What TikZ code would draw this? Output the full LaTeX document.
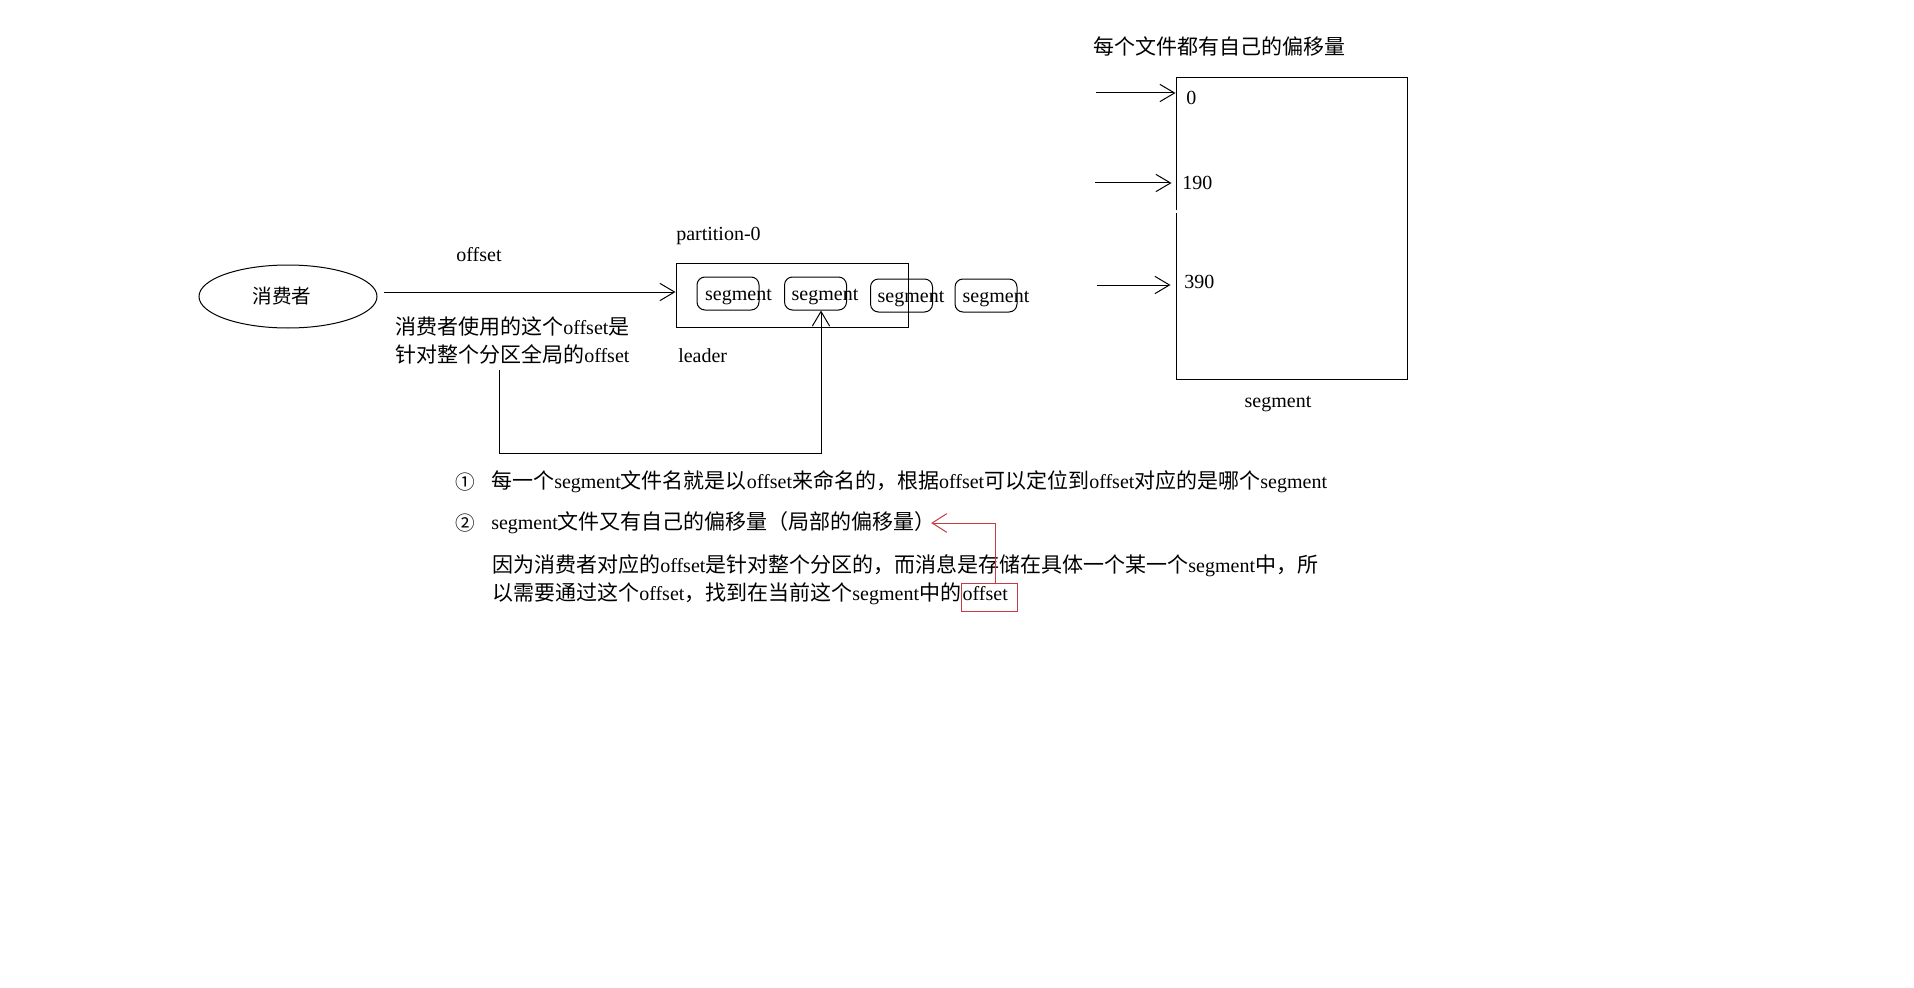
\documentclass[tikz,border=0pt]{standalone}
\usepackage{fontspec}
\setmainfont{Liberation Serif}
\newfontfamily\cjk[Scale=1.05]{Noto Sans CJK SC}
\usetikzlibrary{arrows.meta,shapes.geometric,calc}
\definecolor{redline}{RGB}{196,60,66}
\newcommand\zh[1]{{\cjk #1}}
\begin{document}
\begin{tikzpicture}[x=0.75pt,y=-0.75pt,
  txt/.style={inner sep=0pt, font=\fontsize{15}{18}\selectfont},
  arr/.style={line width=0.75pt, -{Straight Barb[length=11pt,width=13pt]}},
  redarr/.style={draw=redline, line width=0.75pt, -{Straight Barb[length=11pt,width=14pt]}},
  box/.style={draw, line width=0.75pt, inner sep=0pt},
  segbox/.style={draw, line width=0.75pt, inner sep=0pt, rounded corners=6pt, minimum width=46.5pt, minimum height=24.75pt},
  redbox/.style={draw=redline, line width=0.75pt, inner sep=0pt}
]
\useasboundingbox (0,0) rectangle (1914,988);

% consumer
\node[draw, ellipse, line width=0.75pt, inner sep=0pt, minimum width=133.5pt, minimum height=47.25pt, font=\fontsize{14}{16}\selectfont] (cons) at (288,296.5) {\zh{消费者}\kern9pt};
\node[txt, anchor=base] (offl) at (479,262) {offset};
\node[txt, anchor=west, align=left, font=\fontsize{15}{21}\selectfont] (note) at (395,340) {\zh{消费者使用的这个}offset\zh{是}\\\zh{针对整个分区全局的}offset};

% partition
\node[txt, anchor=base west] (plab) at (676,240) {partition-0};
\node[box, minimum width=174pt, minimum height=48pt] (part) at (792,295) {};
\node[segbox] (s1) at (728,293.5) {};
\node[segbox] (s2) at (815.5,293.5) {};
\node[segbox] (s3) at (901.5,295.5) {};
\node[segbox] (s4) at (986,295.5) {};
\node[txt, anchor=base] (t1) at (738.5,300) {segment};
\node[txt, anchor=base] (t2) at (825,300) {segment};
\node[txt, anchor=base] (t3) at (911,302) {segment};
\node[txt, anchor=base] (t4) at (996,302) {segment};
\node[txt, anchor=base west] (lead) at (678,362) {leader};

\coordinate (a0) at (384,292);
\draw[arr] (a0) -- (a0 -| part.west);
\coordinate (c1) at (499,370);
\coordinate (c2) at (499,453);
\draw[arr] (c1) -- (c2) -| ($(s2.south)+(5.5,0)$);

% segment file
\node[txt, anchor=west] (title) at (1093,46) {\zh{每个文件都有自己的偏移量}};
\node[box, minimum width=173.25pt, minimum height=225.75pt] (big) at (1291.5,228.5) {};
\fill[white] (1173,210) rectangle (1179,213.5);
\node[txt, anchor=base west] (o0) at (1186,105) {0};
\node[txt, anchor=base west] (o1) at (1182,190) {190};
\node[txt, anchor=base west] (o2) at (1184,288) {390};
\node[txt, anchor=base] (bl) at (1278,407) {segment};
\coordinate (r0) at (1096,93);
\coordinate (r1) at (1095,183);
\coordinate (r2) at (1097,285);
\draw[arr] (r0) -- (r0 -| big.west);
\draw[arr] (r1) -- ($(r1 -| big.west)+(-4,0)$);
\draw[arr] (r2) -- ($(r2 -| big.west)+(-5,0)$);

% explanations
\node[txt, font=\fontsize{14}{16}\selectfont] (n1) at (465,482) {\zh{①}};
\node[txt, font=\fontsize{14}{16}\selectfont] (n2) at (465,523) {\zh{②}};
\node[txt, anchor=west] (l1) at (491,482) {\zh{每一个}segment\zh{文件名就是以}offset\zh{来命名的，根据}offset\zh{可以定位到}offset\zh{对应的是哪个}segment};
\node[txt, anchor=west] (l2) at (491,523) {segment\zh{文件又有自己的偏移量（局部的偏移量）}};
\node[txt, anchor=west] (l3) at (492,566) {\zh{因为消费者对应的}offset\zh{是针对整个分区的，而消息是存储在具体一个某一个}segment\zh{中，所}};
\node[txt, anchor=west] (l4) at (492,594) {\zh{以需要通过这个}offset\zh{，找到在当前这个}segment\zh{中的}};
\node[txt, anchor=base west] (off4) at ($(l4.base east)+(1,0)$) {offset};
\node[redbox, minimum width=42pt, minimum height=21pt, anchor=north west] (rb) at ($(l4.base east)+(0,-18)$) {};
\draw[redarr] ($(rb.north)+(6,0)$) |- ($(l2.east)+(-5,0)$);
\end{tikzpicture}
\end{document}
